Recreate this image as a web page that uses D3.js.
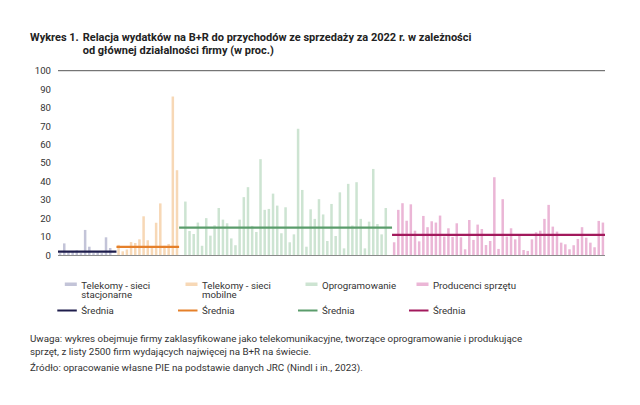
<!DOCTYPE html>
<html><head><meta charset="utf-8">
<script src="https://cdn.jsdelivr.net/npm/d3@7"></script>
<style>
html,body{margin:0;padding:0;background:#fff;}
svg{display:block;font-family:Roboto, "Noto Sans", sans-serif;}
</style></head>
<body>
<svg id="chart" width="640" height="405"></svg>
<script>
// ---- data ----
const groupNames = ["Telekomy - sieci stacjonarne", "Telekomy - sieci mobilne", "Oprogramowanie", "Producenci sprzętu"];
const legendLabels = [["Telekomy - sieci", "stacjonarne"], ["Telekomy - sieci", "mobilne"], ["Oprogramowanie"], ["Producenci sprzętu"]];
const meanLabel = "Średnia";
const valuesStacjonarne = [1, 6.3, 1.5, 2, 2.5, 1, 13.6, 4.5, 1, 1.5, 1, 9.6, 3.8, 0];
const valuesMobilne = [5.5, 2, 3, 7, 6.5, 8.5, 21, 8, 4.5, 17.5, 28, 5, 6, 86, 46];
const valuesOprogramowanie = [0, 29, 13, 11.4, 17.6, 5, 20, 10.5, 16.1, 25.5, 19.2, 17.2, 9, 5.3, 19.2, 31.4, 36.8,
  15.8, 12.5, 52, 24.5, 25, 33.3, 26.8, 11.8, 25.9, 6.9, 11.2, 68.5, 35.3, 4.5, 24.8, 19.6, 30.3,
  22, 7.6, 27.7, 10.3, 34, 3.6, 38.6, 16, 39.5, 19.6, 3.6, 18.1, 46.7, 16.8, 11.2, 25.5, 0];
const valuesSprzet = [6.9, 24.5, 28.1, 18.6, 27.5, 13.2, 7.4, 21.2, 15.1, 18.3, 17.6, 21.4, 10, 14.5, 9.8, 17.2,
  9.6, 3.1, 19, 8.2, 16.5, 14.1, 5.4, 7.6, 42.2, 3.3, 30.3, 10, 14.5, 8.5, 10.3, 2.7, 2.2, 8.5, 12.3,
  13.2, 19.6, 27.2, 15.4, 12.7, 6.7, 5.8, 3.1, 5.3, 8.7, 15.1, 9.4, 6.7, 4.2, 18.5, 17.6];
const means = [1.8, 4.4, 14.8, 10.9];
const yTicks = [0, 10, 20, 30, 40, 50, 60, 70, 80, 90, 100];
const barColors = ["#c3c4d8", "#f7d8b6", "#cde4d2", "#ebb6d6"];
const meanColors = ["#1e1d4c", "#e5802a", "#5a9c6b", "#a2195c"];
const titleLead = "Wykres 1.";
const titleLines = ["Relacja wydatków na B+R do przychodów ze sprzedaży za 2022 r. w zależności", "od głównej działalności firmy (w proc.)"];
const noteLines = ["Uwaga: wykres obejmuje firmy zaklasyfikowane jako telekomunikacyjne, tworzące oprogramowanie i produkujące",
  "sprzęt, z listy 2500 firm wydających najwięcej na B+R na świecie."];
const sourceLine = "Źródło: opracowanie własne PIE na podstawie danych JRC (Nindl i in., 2023).";

// ---- build ----
const groups = [valuesStacjonarne, valuesMobilne, valuesOprogramowanie, valuesSprzet];
const rows = [];
groups.forEach((vals, g) => vals.forEach((v, i) => rows.push({id: g + "-" + i, g, v})));

const svg = d3.select("#chart");
const pLeft = 58, pRight = 605, pTop = 70.7, pBottom = 255;
const x = d3.scaleBand().domain(rows.map(d => d.id)).range([pLeft, pRight]).paddingInner(0.4).paddingOuter(0.2);
const y = d3.scaleLinear().domain([0, 100]).range([pBottom, pTop]);
const step = x.step();

// title
const tt = svg.append("g").attr("font-weight", "bold").attr("font-size", 11).attr("fill", "#222");
tt.append("text").attr("x", 30).attr("y", 41).text(titleLead);
titleLines.forEach((t, i) => tt.append("text").attr("x", 82.7).attr("y", 41 + i * 12.5).text(t));

// y axis
const yAxis = d3.axisLeft(y).tickValues(yTicks).tickSize(0).tickPadding(7);
const ya = svg.append("g").attr("transform", `translate(${pLeft},0)`).call(yAxis);
ya.select(".domain").remove();
ya.selectAll("text").attr("font-size", 9.6).attr("fill", "#333").attr("font-family", "Roboto, sans-serif");

// top line
svg.append("line").attr("x1", pLeft).attr("x2", pRight).attr("y1", y(100)).attr("y2", y(100))
  .attr("stroke", "#555").attr("stroke-width", 1);

// bars
svg.append("g").selectAll("rect").data(rows.filter(d => d.v > 0)).join("rect")
  .attr("x", d => x(d.id)).attr("width", x.bandwidth())
  .attr("y", d => y(d.v)).attr("height", d => y(0) - y(d.v))
  .attr("fill", d => barColors[d.g]);

// baseline
svg.append("line").attr("x1", pLeft).attr("x2", pRight).attr("y1", y(0) + 0.5).attr("y2", y(0) + 0.5)
  .attr("stroke", "#8a8a8a").attr("stroke-width", 1);

// mean lines
groups.forEach((vals, g) => {
  const first = x(g + "-0") - step * 0.2;
  const last = x(g + "-" + (vals.length - 1)) - step * 0.2 + step;
  svg.append("line").attr("x1", first).attr("x2", last).attr("y1", y(means[g])).attr("y2", y(means[g]))
    .attr("stroke", meanColors[g]).attr("stroke-width", 2.2);
});

// legend
const legX = [57.3, 178, 298, 409];
const lg = svg.append("g").attr("font-size", 9.7).attr("fill", "#333");
legendLabels.forEach((lines, g) => {
  lg.append("rect").attr("x", legX[g] + 7.5).attr("y", 282.5).attr("width", 12).attr("height", 3.5).attr("fill", barColors[g]);
  lines.forEach((t, i) => lg.append("text").attr("x", legX[g] + 24).attr("y", 288.5 + i * 9.5).text(t));
  lg.append("line").attr("x1", legX[g]).attr("x2", legX[g] + 19.5).attr("y1", 310.5).attr("y2", 310.5)
    .attr("stroke", meanColors[g]).attr("stroke-width", 2);
  lg.append("text").attr("x", legX[g] + 24).attr("y", 314).text(meanLabel);
});

// notes
const nt = svg.append("g").attr("font-size", 9.8).attr("fill", "#333");
noteLines.forEach((t, i) => nt.append("text").attr("x", 30).attr("y", 341.5 + i * 13).text(t));
nt.append("text").attr("x", 30).attr("y", 371).text(sourceLine);
</script>
</body></html>
